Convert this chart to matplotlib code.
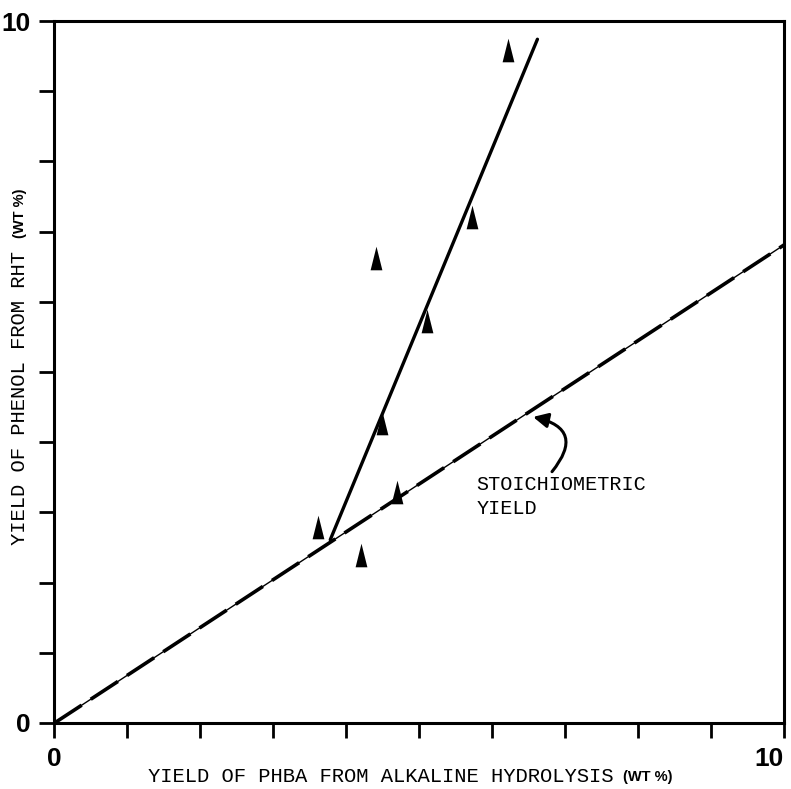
import matplotlib
matplotlib.use("Agg")
import matplotlib.pyplot as plt
from matplotlib.path import Path
from matplotlib.patches import FancyArrowPatch

# ---- data ----
phba = [3.61, 4.20, 4.41, 4.49, 4.70, 5.10, 5.72, 6.21]
phenol = [2.79, 2.39, 6.62, 4.27, 3.29, 5.73, 7.21, 9.59]
fit_x = [3.78, 6.62]
fit_y = [2.61, 9.74]
stoich_x = [0, 10]
stoich_y = [0, 6.81]
ticks = list(range(0, 11))
tick_labels = ['0', '', '', '', '', '', '', '', '', '', '10']
xlabel_main = "YIELD OF PHBA FROM ALKALINE HYDROLYSIS"
ylabel_main = "YIELD OF PHENOL FROM RHT"
unit_label = "(WT %)"
annot_text = "STOICHIOMETRIC\nYIELD"
annot_xy = (6.56, 4.36)
annot_tail = (6.82, 3.58)
annot_text_xy = (5.78, 3.23)

W, H = 791, 789
fig = plt.figure(figsize=(W / 100, H / 100), dpi=100)
ax = fig.add_axes([54.5 / W, (H - 723) / H, (784 - 54.5) / W, (723 - 21) / H])
ax.set_xlim(0, 10)
ax.set_ylim(0, 10)

for s in ax.spines.values():
    s.set_linewidth(2.2)

ax.set_xticks(ticks)
ax.set_yticks(ticks)
ax.set_xticklabels(tick_labels)
ax.set_yticklabels(tick_labels)
ax.tick_params(direction='out', length=11, width=2.0, labelsize=19, pad=6)
for lab in ax.get_xticklabels() + ax.get_yticklabels():
    lab.set_fontweight('bold')
    lab.set_family('Liberation Sans')
ax.get_xticklabels()[-1].set_horizontalalignment('right')

# stoichiometric line: thin solid + thick dashes
ax.plot(stoich_x, stoich_y, color='black', lw=1.0, solid_capstyle='butt')
ax.plot(stoich_x, stoich_y, color='black', lw=2.6, dashes=(9, 3))

# fitted line
ax.plot(fit_x, fit_y, color='black', lw=2.4, solid_capstyle='round')

# narrow tall triangles
tri = Path([(-0.5, -1), (0.5, -1), (0, 1), (-0.5, -1)],
           [Path.MOVETO, Path.LINETO, Path.LINETO, Path.CLOSEPOLY])
ax.plot(phba, phenol, linestyle='none', marker=tri, markersize=17,
        color='black', markeredgewidth=0, zorder=5)

# annotation
ax.text(annot_text_xy[0], annot_text_xy[1], annot_text, family='Liberation Mono',
        fontsize=14.5, ha='left', va='center', linespacing=1.3)
arr = FancyArrowPatch(posA=annot_tail, posB=annot_xy,
                      connectionstyle='arc3,rad=0.8', arrowstyle='-|>',
                      mutation_scale=22, lw=2.2, color='black',
                      transform=ax.transData, shrinkA=0, shrinkB=0)
ax.add_patch(arr)

# axis labels
fig.text(148 / W, 1 - 777 / H, xlabel_main, family='Liberation Mono', fontsize=14.8,
         ha='left', va='center')
fig.text(623 / W, 1 - 777 / H, unit_label, family='Liberation Sans', fontweight='bold',
         fontsize=10.5, ha='left', va='center')
fig.text(20 / W, 1 - 545 / H, ylabel_main, family='Liberation Mono', fontsize=14.8,
         rotation=90, ha='center', va='bottom')
fig.text(20 / W, 1 - 238 / H, unit_label, family='Liberation Sans', fontweight='bold',
         fontsize=10.5, rotation=90, ha='center', va='bottom')

fig.savefig('out.png', dpi=100)
